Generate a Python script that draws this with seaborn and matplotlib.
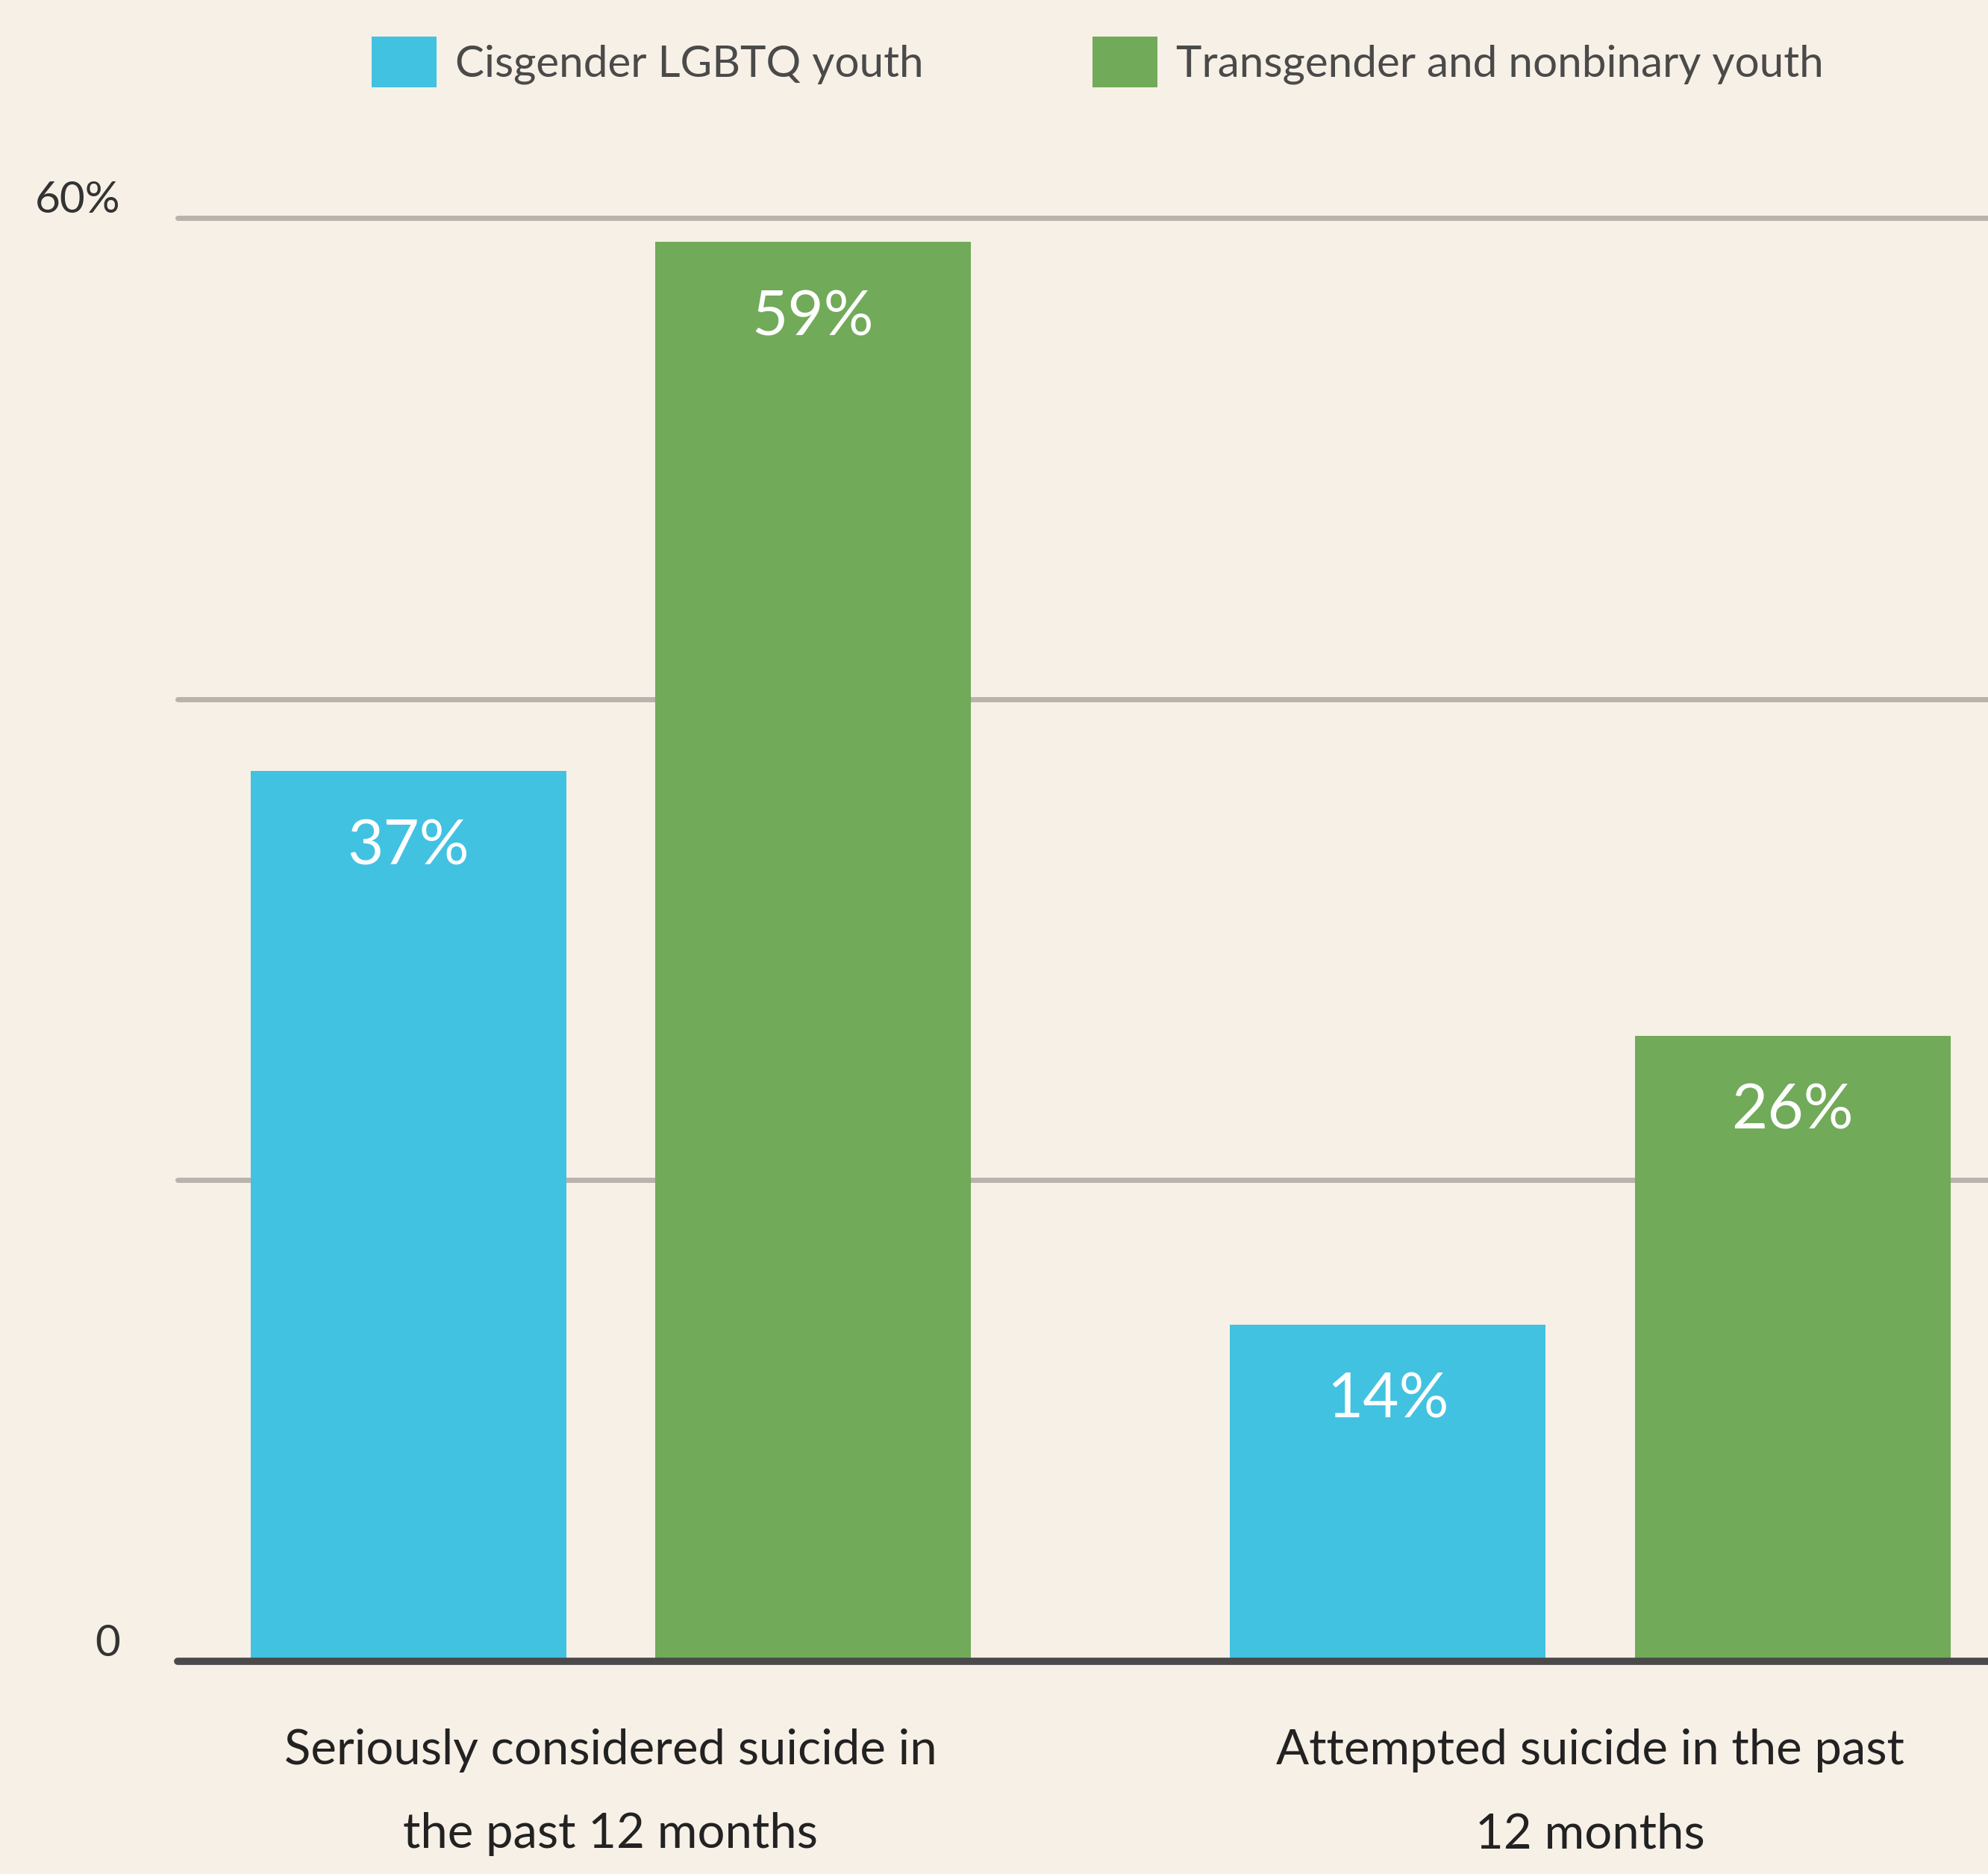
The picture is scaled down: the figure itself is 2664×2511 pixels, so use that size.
import pandas as pd
import matplotlib.pyplot as plt
import matplotlib.transforms as mtransforms
import seaborn as sns

# Data
categories = ["Seriously considered suicide in\nthe past 12 months",
              "Attempted suicide in the past\n12 months"]
groups = ["Cisgender LGBTQ youth", "Transgender and nonbinary youth"]
cis_values = [37, 14]
trans_values = [59, 26]
y_ticks = [0, 20, 40, 60]
y_tick_labels = ["0", "", "", "60%"]

df = pd.DataFrame({
    "category": categories * 2,
    "group": [groups[0]] * 2 + [groups[1]] * 2,
    "value": cis_values + trans_values,
})

bg = "#F7F0E6"
palette = {groups[0]: "#42C2E1", groups[1]: "#71AA59"}

sns.set_style("white")
plt.rcParams["font.family"] = ["Lato", "DejaVu Sans"]

fig = plt.figure(figsize=(26.64, 25.11), dpi=100, facecolor=bg)
ax = fig.add_axes([0.0893, 0.1135, 0.9107, 0.7702])
ax.set_facecolor(bg)

sns.barplot(data=df, x="category", y="value", hue="group", palette=palette,
            width=0.826, gap=0.22, saturation=1, linewidth=0, ax=ax, zorder=2)

ax.set_ylim(0, 60)
ax.set_xlim(-0.442, 1.406)
ax.set_xlabel("")
ax.set_ylabel("")

# gridlines + baseline
for y in y_ticks[1:]:
    ax.axhline(y, color="#B8B3AC", lw=5, zorder=1, clip_on=False)
ax.axhline(0, color="#4A4A4A", lw=7, zorder=3, clip_on=False)

for s in ax.spines.values():
    s.set_visible(False)

ax.set_yticks(y_ticks)
ax.set_yticklabels(y_tick_labels, fontsize=42, color="#333333")
ax.tick_params(axis="y", length=0, pad=55)
shift = mtransforms.ScaledTranslation(0, 0.29, fig.dpi_scale_trans)
for lab in ax.get_yticklabels():
    lab.set_transform(lab.get_transform() + shift)

ax.tick_params(axis="x", length=0, pad=65)
for lab in ax.get_xticklabels():
    lab.set_fontsize(47)
    lab.set_color("#222222")
    lab.set_linespacing(2.1)

# value labels inside bar tops
for container in ax.containers:
    for bar in container:
        h = bar.get_height()
        ax.annotate(f"{h:.0f}%", (bar.get_x() + bar.get_width() / 2, h),
                    xytext=(0, -46), textcoords="offset points",
                    ha="center", va="top", fontsize=60, color="white", zorder=4)

# legend on top
handles, labels = ax.get_legend_handles_labels()
ax.get_legend().remove()
fig.legend(handles, labels, loc="center", bbox_to_anchor=(0.552, 0.967), ncol=2,
           frameon=False, fontsize=42, handlelength=1.49, handleheight=1.41,
           handletextpad=0.43, columnspacing=3.88, borderpad=0,
           labelcolor="#4A4A4A")

fig.savefig("out.png", dpi=100, facecolor=bg)
